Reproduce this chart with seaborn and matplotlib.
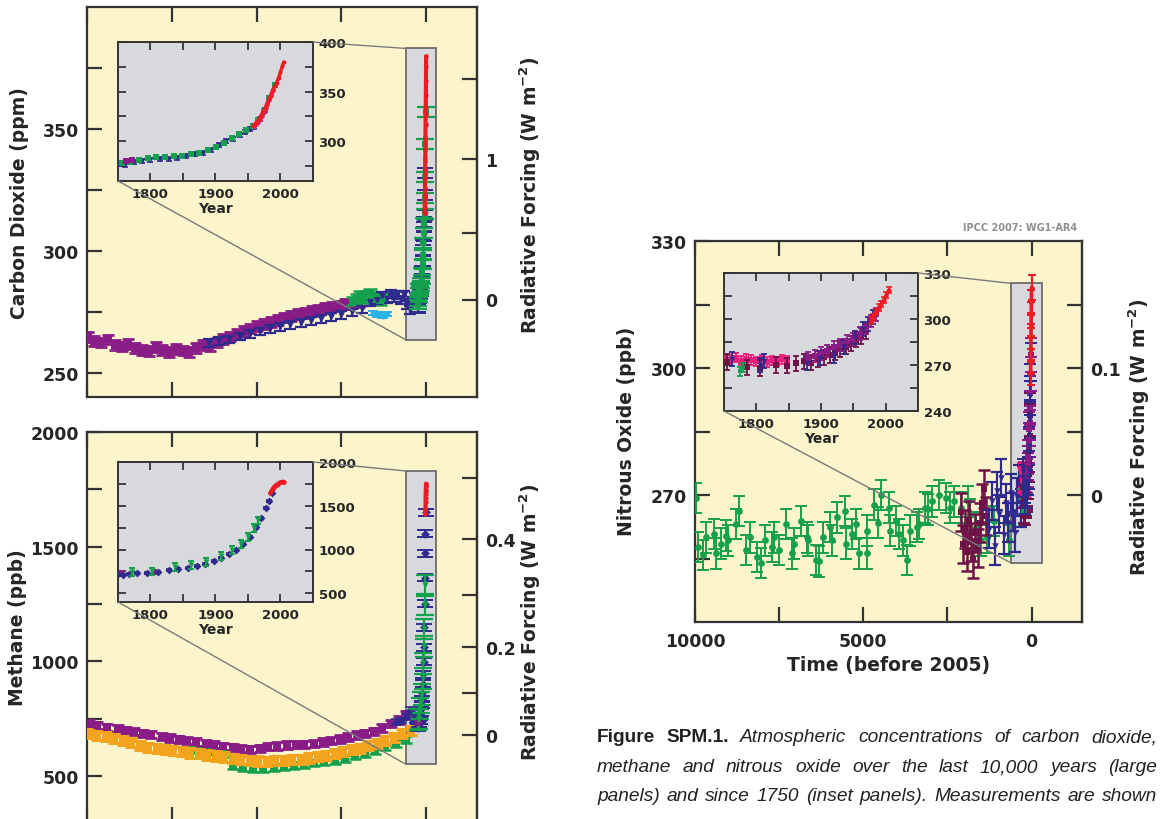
import numpy as np
import pandas as pd
import matplotlib
matplotlib.use("Agg")
import matplotlib.pyplot as plt
import seaborn as sns
from matplotlib.patches import Rectangle, ConnectionPatch

# ---------------------------------------------------------------- data
# Main panels: x = years before 2005
xticks_main = [10000, 7500, 5000, 2500, 0]
xticklabels_main = ["10000", "", "5000", "", "0"]

# ---- Carbon dioxide (ppm)
co2_purple_age = [9980, 9780, 9580, 9380, 9180, 8980, 8780, 8580, 8380, 8180, 7980, 7780, 7580, 7380,
                  7180, 6980, 6780, 6580, 6380, 6180, 5980, 5780, 5580, 5380, 5180, 4980, 4780, 4580,
                  4380, 4180, 3980, 3780, 3580, 3380, 3180, 2980, 2780, 2580, 2380, 2180, 1980]
co2_purple_ppm = [264.6, 263.1, 262.4, 263.6, 261.3, 260.7, 261.8, 260.1, 259.4, 258.9, 260.4, 259.3,
                  258.6, 259.8, 259.1, 258.6, 260.2, 261.2, 260.8, 262.4, 263.7, 264.8, 265.7, 267.2,
                  268.1, 269.1, 270.0, 270.9, 271.7, 272.6, 273.3, 274.0, 274.6, 275.3, 275.8, 276.4,
                  277.1, 277.5, 278.2, 278.4, 279.0]
co2_dblue_age = [6400, 6100, 5800, 5500, 5200, 4900, 4600, 4300, 4000, 3700, 3400, 3100, 2800, 2500,
                 2200, 1900, 1650, 1450, 1300, 1150, 1050, 950, 850, 750, 650, 560, 480, 400, 330]
co2_dblue_ppm = [262.2, 262.9, 263.6, 264.8, 265.9, 266.9, 267.8, 268.7, 269.6, 270.3, 271.1, 272.0,
                 272.9, 273.8, 274.7, 275.9, 278.8, 279.6, 281.4, 280.2, 282.3, 280.6, 281.7, 279.9,
                 282.0, 277.8, 275.6, 279.4, 281.2]
co2_green_age = [2150, 2050, 1950, 1850, 1750, 1650, 1550, 1450, 1350, 1250]
co2_green_ppm = [279.4, 280.6, 281.8, 280.3, 281.6, 282.7, 281.2, 280.5, 279.7, 280.9]
co2_cyan_age = [1560, 1460, 1360, 1260, 1160]
co2_cyan_ppm = [274.4, 273.5, 274.1, 273.1, 273.9]
# since 1750 (calendar years)
co2_law_year = [1752, 1761, 1774, 1787, 1800, 1814, 1828, 1841, 1855, 1868, 1881, 1893, 1905, 1916,
                1927, 1937, 1945, 1953, 1960, 1968, 1976]
co2_law_ppm = [276.8, 276.4, 279.6, 280.4, 281.1, 282.6, 282.1, 283.5, 284.7, 286.8, 288.6, 291.7,
               295.8, 300.4, 302.3, 306.0, 309.8, 311.9, 314.6, 322.8, 331.9]
co2_grn_year = [1756, 1768, 1782, 1796, 1809, 1822, 1836, 1849, 1862, 1875, 1888, 1901, 1913, 1925,
                1936, 1947, 1957, 1966, 1974, 1983, 1992]
co2_grn_ppm = [277.9, 279.2, 280.8, 282.9, 284.3, 283.7, 284.9, 285.6, 286.9, 288.2, 290.8, 294.6,
               298.3, 303.1, 307.2, 311.4, 315.2, 321.6, 330.4, 343.8, 356.9]
co2_pur_year = [1763, 1772]
co2_pur_ppm = [279.8, 281.3]
co2_pink_year = [1959, 1962, 1965, 1968, 1971, 1974, 1977, 1980, 1983, 1986, 1989]
co2_pink_ppm = [315.6, 317.9, 319.8, 322.6, 325.9, 329.8, 333.6, 338.2, 342.4, 346.8, 351.9]
co2_red_year = [1958, 1961, 1964, 1967, 1970, 1973, 1976, 1979, 1982, 1985, 1988, 1991, 1994, 1997,
                2000, 2003, 2005]
co2_red_ppm = [315.3, 317.6, 319.6, 322.2, 325.7, 329.7, 332.1, 336.8, 341.4, 346.0, 351.6, 355.6,
               358.8, 363.7, 369.6, 375.8, 379.8]

# ---- Methane (ppb)
ch4_purple_age = [9950, 9700, 9400, 9100, 8850, 8600, 8350, 8100, 7800, 7550, 7300, 7050, 6800, 6500,
                  6250, 6000, 5700, 5450, 5200, 4900, 4650, 4400, 4100, 3850, 3600, 3300, 3050, 2800,
                  2550, 2300, 2050, 1800, 1550, 1300, 1050, 800, 600]
ch4_purple_ppb = [728, 722, 713, 707, 700, 694, 686, 680, 672, 666, 660, 654, 648, 641, 637, 630, 626,
                  620, 617, 621, 628, 631, 635, 637, 639, 642, 648, 655, 662, 670, 679, 686, 695, 710,
                  728, 745, 770]
ch4_orange_age = [9950, 9700, 9450, 9200, 8950, 8700, 8450, 8200, 7950, 7700, 7450, 7200, 6950, 6700,
                  6450, 6200, 5950, 5700, 5450, 5200, 4950, 4700, 4450, 4200, 3950, 3700, 3450, 3200,
                  2950, 2700, 2450, 2200, 1950, 1700, 1450, 1200, 950, 700, 450]
ch4_orange_ppb = [684, 678, 671, 664, 656, 648, 633, 626, 621, 616, 612, 606, 601, 597, 592, 588, 583,
                  578, 573, 569, 566, 565, 567, 568, 571, 574, 579, 584, 590, 598, 606, 616, 622, 632,
                  643, 655, 668, 684, 700]
ch4_green_age = [6900, 6600, 6300, 6000, 5700, 5400, 5100, 4800, 4500, 4200, 3900, 3600, 3300, 3000,
                 2700, 2400, 2100, 1800, 1500, 1200, 900, 600]
ch4_green_ppb = [615, 610, 604, 598, 545, 538, 534, 532, 537, 541, 546, 550, 556, 561, 568, 577, 588,
                 598, 612, 628, 642, 660]
ch4_dblue_age = [900, 750, 600, 480, 380, 300]
ch4_dblue_ppb = [735, 742, 758, 790, 775, 760]
ch4_law_year = [1750, 1758, 1767, 1780, 1795, 1812, 1828, 1843, 1858, 1871, 1884, 1897, 1909, 1921,
                1932, 1943, 1953, 1962, 1970, 1977, 1982, 1987]
ch4_law_ppb = [716, 711, 722, 729, 727, 744, 761, 776, 791, 812, 836, 864, 902, 944, 998, 1062, 1148,
               1252, 1365, 1472, 1556, 1650]
ch4_grn_year = [1772, 1803, 1838, 1862, 1885, 1908, 1926, 1940, 1950, 1959, 1966]
ch4_grn_ppb = [746, 749, 796, 821, 857, 926, 991, 1066, 1142, 1248, 1332]
ch4_pur_year = [1754, 1806]
ch4_pur_ppb = [731, 742]
ch4_red_year = [1984, 1986, 1988, 1990, 1992, 1994, 1996, 1998, 2000, 2002, 2004, 2005]
ch4_red_ppb = [1644, 1666, 1693, 1714, 1728, 1742, 1748, 1760, 1766, 1772, 1775, 1774]

# ---- Nitrous oxide (ppb)
n2o_green_age = [9980, 9900, 9770, 9670, 9450, 9390, 9230, 9065, 9010, 8790, 8690, 8470, 8360, 8150,
                 8040, 7930, 7715, 7650, 7490, 7290, 7120, 7070, 6850, 6685, 6630, 6410, 6310, 6200,
                 5980, 5930, 5770, 5550, 5500, 5330, 5225, 5120, 4900, 4880, 4680, 4575, 4460, 4250,
                 4200, 4030, 3930, 3820, 3710, 3600, 3390, 3330, 3170, 3065, 2950, 2740, 2530, 2410,
                 2300, 2090, 1875, 1830, 1650, 1490, 1330, 1110, 680]
n2o_green_ppb = [269.3, 257.7, 255.8, 260.0, 260.8, 256.2, 258.5, 260.4, 259.3, 263.1, 266.2, 257.0,
                 260.0, 255.4, 253.9, 259.3, 257.7, 260.0, 257.0, 263.1, 256.2, 258.5, 263.9, 260.0,
                 259.3, 254.7, 254.3, 260.0, 262.4, 259.3, 264.7, 266.2, 258.5, 260.8, 263.1, 256.2,
                 261.6, 256.2, 267.7, 263.5, 270.0, 267.0, 261.6, 263.9, 260.8, 259.3, 254.7, 261.6,
                 262.4, 263.1, 267.0, 266.6, 268.5, 270.0, 269.3, 267.0, 268.5, 267.0, 268.5, 265.4,
                 262.4, 259.3, 260.0, 263.9, 259.3]
n2o_maroon_age = [2100, 2050, 1980, 1920, 1850, 1800, 1740, 1680, 1600, 1540, 1480, 1420, 1350]
n2o_maroon_ppb = [266.0, 258.5, 262.0, 256.5, 264.0, 259.0, 255.0, 261.0, 257.5, 263.5, 268.0, 271.5,
                  265.0]
n2o_dblue_age = [1250, 1180, 1100, 1030, 960, 900, 820, 760, 690, 620, 560, 490, 430, 370, 310]
n2o_dblue_ppb = [262.0, 268.5, 258.0, 271.0, 265.5, 274.0, 260.5, 268.0, 263.5, 270.5, 266.0, 261.0,
                 269.5, 272.5, 267.0]
n2o_pink_year = [1752, 1760, 1768, 1776, 1784, 1792, 1800, 1808, 1816, 1824, 1832, 1840, 1848]
n2o_pink_ppb = [274.5, 273.5, 274.8, 272.8, 274.0, 273.2, 272.5, 273.6, 272.0, 273.0, 272.4, 273.8, 273.0]
n2o_mar_year = [1755, 1785, 1805, 1830, 1848, 1862, 1874, 1885, 1896, 1905, 1914, 1922, 1930, 1938,
                1946, 1954, 1962, 1970]
n2o_mar_ppb = [272.0, 268.5, 268.0, 270.0, 269.5, 271.0, 272.5, 271.5, 274.0, 275.0, 276.5, 278.0,
               280.5, 282.0, 284.0, 286.5, 289.0, 292.0]
n2o_pur_year = [1880, 1890, 1900, 1910, 1920, 1930, 1940, 1950, 1960, 1970, 1978, 1985]
n2o_pur_ppb = [274.5, 276.0, 277.5, 279.0, 281.5, 283.0, 285.5, 287.0, 290.5, 294.0, 298.5, 303.0]
n2o_blu_year = [1762, 1805, 1812, 1878, 1898, 1920, 1935, 1952, 1965, 1972, 1980]
n2o_blu_ppb = [274.0, 270.0, 272.5, 271.5, 274.5, 276.0, 281.5, 288.0, 293.5, 296.5, 301.5]
n2o_grn_year = [1775, 1780]
n2o_grn_ppb = [266.0, 268.5]
n2o_red_year = [1977, 1981, 1985, 1989, 1993, 1997, 2001, 2005]
n2o_red_ppb = [299.0, 301.5, 304.5, 307.5, 310.0, 312.5, 315.5, 319.0]

# ---------------------------------------------------------------- style
sns.set_style("ticks")
plt.rcParams['font.family'] = ['DejaVu Sans']
plt.rcParams['font.weight'] = 'bold'
plt.rcParams['axes.labelweight'] = 'bold'
plt.rcParams['mathtext.default'] = 'bf'

BG = '#FCF5CC'
GRAY = '#D8D9DC'
C_PURPLE = '#8A1C87'
C_DBLUE = '#2E2A8E'
C_GREEN = '#14A04C'
C_RED = '#EC1C24'
C_PINK = '#EA1E7C'
C_CYAN = '#2BB2E6'
C_ORANGE = '#F2A41F'
C_MAROON = '#6E1248'
SPINE = '#333333'
LINEC = '#7a7a7a'

W, H = 1161, 820
fig = plt.figure(figsize=(W / 100, H / 100), dpi=100)
fig.patch.set_facecolor('white')


def rect(l, t, r, b):
    return [l / W, (H - b) / H, (r - l) / W, (b - t) / H]


def draw(ax, x, y, color, marker='s', s=16, yerr=None, cap=3.0, elw=1.0, z=3, line=False, lw=2.0):
    df = pd.DataFrame({'x': np.asarray(x, float), 'y': np.asarray(y, float)})
    if yerr is not None:
        ax.errorbar(df['x'], df['y'], yerr=yerr, fmt='none', ecolor=color, elinewidth=elw,
                    capsize=cap, capthick=elw, zorder=z)
    if line:
        sns.lineplot(data=df, x='x', y='y', ax=ax, color=color, lw=lw, sort=False,
                     estimator=None, zorder=z + 0.05, legend=False)
    sns.scatterplot(data=df, x='x', y='y', ax=ax, color=color, marker=marker, s=s,
                    linewidth=0, zorder=z + 0.1, legend=False)
    ax.set_xlabel('')
    ax.set_ylabel('')


def age(years):
    return [2005 - v for v in years]


def style_main(ax, ylim, yticks, ylabs, funcs, rticks, rlabs, show_x):
    ax.set_facecolor(BG)
    ax.set_xlim(10000, -1500)
    ax.set_ylim(*ylim)
    ax.set_xticks(xticks_main)
    ax.set_xticklabels(xticklabels_main if show_x else [''] * len(xticks_main))
    ax.set_yticks(yticks)
    ax.set_yticklabels(ylabs)
    ax.tick_params(axis='x', direction='in', length=11, width=1.6, top=True, bottom=True,
                   labelsize=12.5, pad=7, color=SPINE)
    ax.tick_params(axis='y', direction='in', length=11, width=1.6, left=True, right=False,
                   labelsize=12.5, pad=6, color=SPINE)
    for sp in ax.spines.values():
        sp.set_visible(True)
        sp.set_linewidth(1.6)
        sp.set_color(SPINE)
    sec = ax.secondary_yaxis('right', functions=funcs)
    sec.set_yticks(rticks)
    sec.set_yticklabels(rlabs)
    sec.tick_params(direction='in', length=11, width=1.6, labelsize=12.5, pad=6, color=SPINE)
    for sp in sec.spines.values():
        sp.set_linewidth(1.6)
        sp.set_color(SPINE)
    return sec


def style_inset(axi, ylim, yticks, ylabs):
    axi.set_facecolor(GRAY)
    axi.set_xlim(1750, 2050)
    axi.set_ylim(*ylim)
    axi.set_xticks([1800, 1850, 1900, 1950, 2000])
    axi.set_xticklabels(['1800', '', '1900', '', '2000'])
    axi.set_yticks(yticks)
    axi.set_yticklabels(ylabs)
    axi.tick_params(direction='in', length=6, width=1.3, top=True, bottom=True, left=True,
                    right=True, labelleft=False, labelright=True, labelsize=9.5, pad=4,
                    color=SPINE)
    for sp in axi.spines.values():
        sp.set_visible(True)
        sp.set_linewidth(1.4)
        sp.set_color(SPINE)
    axi.set_xlabel('Year', fontsize=10, fontweight='bold', labelpad=1)


def add_box(ax, axi, x_left, x_right, y_bot, y_top):
    ax.add_patch(Rectangle((x_right, y_bot), x_left - x_right, y_top - y_bot,
                           facecolor=GRAY, edgecolor='#6c6c6c', lw=1.3, zorder=1))
    for a, b in [((1, 1), (x_left, y_top)), ((0, 0), (x_left, y_bot))]:
        con = ConnectionPatch(xyA=a, coordsA=axi.transAxes, xyB=b, coordsB=ax.transData,
                              color=LINEC, lw=1.0)
        fig.add_artist(con)


RF_LABEL = 'Radiative Forcing (W m$^{-2}$)'

# ---------------------------------------------------------------- CO2
ax1 = fig.add_axes(rect(87, 8, 477, 398))
draw(ax1, co2_purple_age, co2_purple_ppm, C_PURPLE, 's', 34, yerr=2.0, cap=4.5, elw=2.0, z=3)
draw(ax1, co2_dblue_age, co2_dblue_ppm, C_DBLUE, 'v', 26, yerr=1.6, cap=4, elw=1.6, z=3.2)
draw(ax1, co2_green_age, co2_green_ppm, C_GREEN, 's', 28, yerr=1.8, cap=5, elw=1.8, z=3.1)
draw(ax1, co2_cyan_age, co2_cyan_ppm, C_CYAN, 'o', 18, yerr=0.8, cap=3.5, elw=1.4, z=3.3)
draw(ax1, age(co2_law_year), co2_law_ppm, C_DBLUE, 'v', 22, yerr=2.0, cap=5.5, elw=1.4, z=3.4)
draw(ax1, age(co2_grn_year), co2_grn_ppm, C_GREEN, 's', 22, yerr=2.0, cap=6.5, elw=1.6, z=3.5)
draw(ax1, age(co2_pink_year), co2_pink_ppm, C_PINK, 'o', 10, z=3.6)
draw(ax1, age(co2_red_year), co2_red_ppm, C_RED, 'o', 10, z=3.7, line=True, lw=3.0)
sec1 = style_main(ax1, (240, 400), [250, 275, 300, 325, 350, 375], ['250', '', '300', '', '350', ''],
                  (lambda c: 5.35 * np.log(np.clip(c, 1e-6, None) / 280.0),
                   lambda r: 280.0 * np.exp(np.asarray(r) / 5.35)),
                  [0, 0.5, 1, 1.5], ['0', '', '1', ''], False)

ax1i = fig.add_axes(rect(118, 43, 313, 182))
draw(ax1i, co2_law_year, co2_law_ppm, C_DBLUE, 'v', 16, yerr=2.0, cap=2, elw=1.2, z=3)
draw(ax1i, co2_grn_year, co2_grn_ppm, C_GREEN, 's', 16, yerr=1.5, cap=2, elw=1.2, z=3.1)
draw(ax1i, co2_pur_year, co2_pur_ppm, C_PURPLE, 's', 16, yerr=1.5, cap=2, elw=1.2, z=3.2)
draw(ax1i, co2_pink_year, co2_pink_ppm, C_PINK, 'o', 12, z=3.3, line=True, lw=3.0)
draw(ax1i, co2_red_year, co2_red_ppm, C_RED, 'o', 8, z=3.4, line=True, lw=2.5)
style_inset(ax1i, (260, 400), [275, 300, 325, 350, 375, 400], ['', '300', '', '350', '', '400'])
add_box(ax1, ax1i, 600, -300, 263.5, 383)

# ---------------------------------------------------------------- CH4
ax2 = fig.add_axes(rect(87, 433, 477, 823))
draw(ax2, ch4_orange_age, ch4_orange_ppb, C_ORANGE, 's', 34, yerr=20, cap=4.5, elw=2.2, z=3)
draw(ax2, ch4_purple_age, ch4_purple_ppb, C_PURPLE, 's', 30, yerr=16, cap=4.5, elw=2.0, z=2.9)
draw(ax2, ch4_green_age, ch4_green_ppb, C_GREEN, 's', 26, yerr=14, cap=4.5, elw=1.8, z=2.8)
draw(ax2, ch4_dblue_age, ch4_dblue_ppb, C_DBLUE, 'D', 18, yerr=12, cap=3.5, elw=1.2, z=3.2)
draw(ax2, age(ch4_law_year), ch4_law_ppb, C_DBLUE, 'D', 20, yerr=15, cap=5.5, elw=1.4, z=3.3)
draw(ax2, age(ch4_grn_year), ch4_grn_ppb, C_GREEN, 'v', 20, yerr=45, cap=6.5, elw=1.6, z=3.4)
draw(ax2, age(ch4_pur_year), ch4_pur_ppb, C_PURPLE, 's', 16, yerr=10, cap=3, elw=1.2, z=3.35)
draw(ax2, age(ch4_red_year), ch4_red_ppb, C_RED, 'o', 10, z=3.6, line=True, lw=3.0)
sec2 = style_main(ax2, (300, 2000), [500, 750, 1000, 1250, 1500, 1750, 2000],
                  ['500', '', '1000', '', '1500', '', '2000'],
                  (lambda m: 0.0306 * (np.sqrt(np.clip(m, 1e-6, None)) - np.sqrt(680.0)),
                   lambda r: np.clip(np.asarray(r) / 0.0306 + np.sqrt(680.0), 0, None) ** 2),
                  [0, 0.1, 0.2, 0.3, 0.4, 0.5], ['0', '', '0.2', '', '0.4', ''], False)

ax2i = fig.add_axes(rect(118, 463, 313, 603))
draw(ax2i, ch4_law_year, ch4_law_ppb, C_DBLUE, 'D', 16, yerr=12, cap=2, elw=1.2, z=3)
draw(ax2i, ch4_grn_year, ch4_grn_ppb, C_GREEN, 'v', 18, yerr=45, cap=2.5, elw=1.5, z=3.1)
draw(ax2i, ch4_pur_year, ch4_pur_ppb, C_PURPLE, 's', 14, yerr=10, cap=2, elw=1.2, z=2.9)
draw(ax2i, ch4_red_year, ch4_red_ppb, C_RED, 'o', 10, z=3.4, line=True, lw=3.0)
style_inset(ax2i, (400, 2000), [500, 750, 1000, 1250, 1500, 1750, 2000],
            ['500', '', '1000', '', '1500', '', '2000'])
add_box(ax2, ax2i, 600, -300, 552, 1830)

# ---------------------------------------------------------------- N2O
ax3 = fig.add_axes(rect(695, 242, 1082, 623))
draw(ax3, n2o_green_age, n2o_green_ppb, C_GREEN, 'o', 24, yerr=3.6, cap=4.5, elw=1.4, z=3)
draw(ax3, n2o_maroon_age, n2o_maroon_ppb, C_MAROON, 's', 24, yerr=4.5, cap=4.5, elw=1.8, z=3.1)
draw(ax3, n2o_dblue_age, n2o_dblue_ppb, C_DBLUE, 'v', 22, yerr=4.5, cap=4.5, elw=1.6, z=3.2)
draw(ax3, age(n2o_pink_year), n2o_pink_ppb, C_PINK, 's', 18, yerr=3.0, cap=4, elw=1.4, z=3.3)
draw(ax3, age(n2o_mar_year), n2o_mar_ppb, C_MAROON, 's', 18, yerr=5.0, cap=4, elw=1.4, z=3.35)
draw(ax3, age(n2o_pur_year), n2o_pur_ppb, C_PURPLE, 's', 18, yerr=4.0, cap=4, elw=1.4, z=3.4)
draw(ax3, age(n2o_blu_year), n2o_blu_ppb, C_DBLUE, 'v', 18, yerr=4.5, cap=4, elw=1.4, z=3.45)
draw(ax3, age(n2o_grn_year), n2o_grn_ppb, C_GREEN, 's', 16, yerr=3.0, cap=4, elw=1.4, z=3.3)
draw(ax3, age(n2o_red_year), n2o_red_ppb, C_RED, 'o', 12, yerr=3.0, cap=3, elw=1.5, z=3.6, line=True, lw=2.6)
sec3 = style_main(ax3, (240, 330), [255, 270, 285, 300, 315, 330], ['', '270', '', '300', '', '330'],
                  (lambda n: (np.asarray(n) - 270.0) / 300.0,
                   lambda r: 270.0 + 300.0 * np.asarray(r)),
                  [0, 0.05, 0.1, 0.15], ['0', '', '0.1', ''], True)

ax3i = fig.add_axes(rect(724, 274, 918, 412))
draw(ax3i, n2o_pink_year, n2o_pink_ppb, C_PINK, 's', 16, yerr=3.0, cap=2, elw=1.3, z=3)
draw(ax3i, n2o_mar_year, n2o_mar_ppb, C_MAROON, 's', 16, yerr=5.0, cap=2.5, elw=1.3, z=3.1)
draw(ax3i, n2o_pur_year, n2o_pur_ppb, C_PURPLE, 's', 16, yerr=4.0, cap=2.5, elw=1.3, z=3.2)
draw(ax3i, n2o_blu_year, n2o_blu_ppb, C_DBLUE, 'v', 16, yerr=4.5, cap=2.5, elw=1.3, z=3.3)
draw(ax3i, n2o_grn_year, n2o_grn_ppb, C_GREEN, 's', 12, yerr=3.0, cap=2, elw=1.3, z=3.25)
draw(ax3i, n2o_red_year, n2o_red_ppb, C_RED, 'o', 10, yerr=2.0, cap=2, elw=1.2, z=3.5, line=True, lw=2.4)
style_inset(ax3i, (240, 330), [240, 255, 270, 285, 300, 315, 330],
            ['240', '', '270', '', '300', '', '330'])
ax3.set_xlabel('Time (before 2005)', fontsize=13.5, fontweight='bold', labelpad=4)
add_box(ax3, ax3i, 620, -300, 254, 320)

# ---------------------------------------------------------------- axis labels
lab_kw = dict(rotation=90, ha='center', va='center', fontsize=13.5, fontweight='bold')
fig.text(20 / W, 1 - 203 / H, 'Carbon Dioxide (ppm)', **lab_kw)
fig.text(530 / W, 1 - 195 / H, RF_LABEL, **lab_kw)
fig.text(18 / W, 1 - 628 / H, 'Methane (ppb)', **lab_kw)
fig.text(530 / W, 1 - 622 / H, RF_LABEL, **lab_kw)
fig.text(627 / W, 1 - 431 / H, 'Nitrous Oxide (ppb)', **lab_kw)
fig.text(1139 / W, 1 - 437 / H, RF_LABEL, **lab_kw)

fig.text(1077 / W, 1 - 228 / H, 'IPCC 2007: WG1-AR4', ha='right', va='center', fontsize=7,
         color='#8f8f8f', fontweight='bold')

# ---------------------------------------------------------------- caption
renderer = fig.canvas.get_renderer()
CAP_SIZE = 13.8


def justified(y, parts, x0=597, x1=1157):
    texts, widths = [], []
    for word, style, weight in parts:
        t = fig.text(0, 0, word, fontsize=CAP_SIZE, family=['Liberation Sans', 'DejaVu Sans'],
                     style=style, fontweight=weight, va='center', ha='left', color='#222222')
        texts.append(t)
        widths.append(t.get_window_extent(renderer).width)
    gap = (x1 - x0 - sum(widths)) / (len(parts) - 1)
    x = x0
    for t, wd in zip(texts, widths):
        t.set_position((x / W, 1 - y / H))
        x += wd + gap


def italic_words(s):
    return [(w, 'italic', 'normal') for w in s.split()]


justified(738, [('Figure', 'normal', 'bold'), ('SPM.1.', 'normal', 'bold')]
          + italic_words('Atmospheric concentrations of carbon dioxide,'))
justified(768, italic_words('methane and nitrous oxide over the last 10,000 years (large'))
justified(797, italic_words('panels) and since 1750 (inset panels). Measurements are shown'))

fig.savefig('out.png', dpi=100, facecolor='white')
